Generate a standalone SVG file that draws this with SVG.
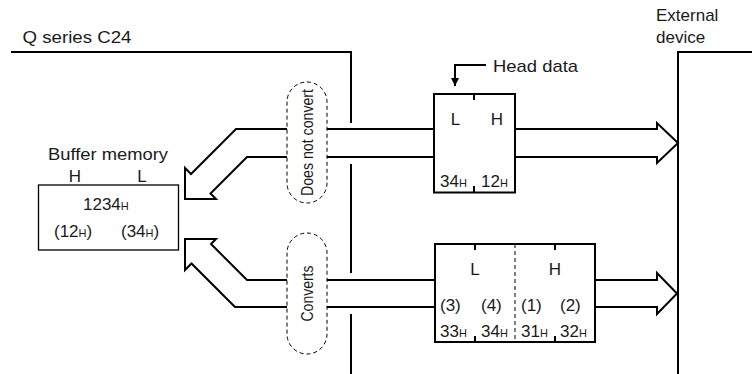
<svg xmlns="http://www.w3.org/2000/svg" width="752" height="374" viewBox="0 0 752 374">
<style>
text{font-family:"Liberation Sans",Arial,sans-serif;font-size:17px;fill:#1a1a1a}
.sub{font-size:11px}
.ln{fill:none;stroke:#000;stroke-width:2}
.thin{fill:none;stroke:#000;stroke-width:1.3}
.dash{fill:none;stroke:#000;stroke-width:1;stroke-dasharray:4 3}
.bx{fill:#fff;stroke:#000;stroke-width:2}
</style>
<defs>
<marker id="ah" viewBox="0 0 8 8" refX="8" refY="4" markerWidth="8" markerHeight="8" markerUnits="userSpaceOnUse" orient="auto"><path d="M0,0 L8,4 L0,8 Z" fill="#000"/></marker>
</defs>
<g id="q-series">
<text x="22.5" y="43" textLength="109" lengthAdjust="spacingAndGlyphs">Q series C24</text>
<path class="ln" d="M11,52 H351 V123 M351,164 V273 M351,314 V374"/>
</g>
<g id="external-device">
<text x="656" y="21">External</text>
<text x="656" y="43">device</text>
<path class="ln" d="M752,52 H678 V374"/>
</g>
<g id="buffer-memory">
<text x="48" y="160" textLength="120" lengthAdjust="spacingAndGlyphs">Buffer memory</text>
<text x="75" y="181.5" text-anchor="middle">H</text>
<text x="142" y="181.5" text-anchor="middle">L</text>
<rect class="thin" x="38.5" y="185" width="140" height="65"/>
<text x="83" y="210">1234<tspan class="sub">H</tspan></text>
<text x="54" y="237">(12<tspan class="sub">H</tspan>)</text>
<text x="121" y="237">(34<tspan class="sub">H</tspan>)</text>
</g>
<g id="head-box">
<rect class="bx" x="434" y="94" width="81" height="98.5"/>
<path class="ln" d="M474,94 V100 M474,186 V192.5"/>
<text x="455.5" y="125" text-anchor="middle">L</text>
<text x="497" y="125" text-anchor="middle">H</text>
<text x="440" y="187">34<tspan class="sub">H</tspan></text>
<text x="481" y="187">12<tspan class="sub">H</tspan></text>
</g>
<g id="head-data">
<text x="493" y="71.5" textLength="85" lengthAdjust="spacingAndGlyphs">Head data</text>
</g>
<g id="ascii-box">
<rect class="bx" x="435" y="244" width="160" height="98"/>
<path class="dash" d="M515,244 V342"/>
<path class="ln" d="M475,244 V250 M555,244 V250 M475,336 V342 M555,336 V342"/>
<text x="475" y="275" text-anchor="middle">L</text>
<text x="555" y="275" text-anchor="middle">H</text>
<text x="440" y="311">(3)</text>
<text x="481" y="311">(4)</text>
<text x="521" y="311">(1)</text>
<text x="560" y="311">(2)</text>
<text x="440" y="337">33<tspan class="sub">H</tspan></text>
<text x="481" y="337">34<tspan class="sub">H</tspan></text>
<text x="521" y="337">31<tspan class="sub">H</tspan></text>
<text x="560" y="337">32<tspan class="sub">H</tspan></text>
</g>
<g id="does-not-convert">
<rect class="dash" x="287" y="82" width="40" height="121" rx="20"/>
<text transform="translate(313,142.5) rotate(-90)" text-anchor="middle" textLength="107" lengthAdjust="spacingAndGlyphs">Does not convert</text>
</g>
<g id="converts">
<rect class="dash" x="287" y="233" width="40" height="121" rx="20"/>
<text transform="translate(313,293.5) rotate(-90)" text-anchor="middle" textLength="56" lengthAdjust="spacingAndGlyphs">Converts</text>
</g>
<g id="connectors">
<path class="ln" d="M486,65 H455 V86" marker-end="url(#ah)"/>
<path class="ln" d="M434,129 H327 M287,129 H236 L191,174 L185,168 V199 H216 L210.5,193.5 L247,157 H287 M327,157 H434"/>
<path class="ln" d="M435,280 H327 M287,280 H247 L211,244 L216,239 H185 V270 L191.5,263.5 L235,307 H287 M327,307 H435"/>
<path class="ln" d="M515,129 H657 V123 L678,143 L657,163 V157 H515"/>
<path class="ln" d="M595,280 H657 V273 L677,293.5 L657,314 V307 H595"/>
</g>
</svg>
